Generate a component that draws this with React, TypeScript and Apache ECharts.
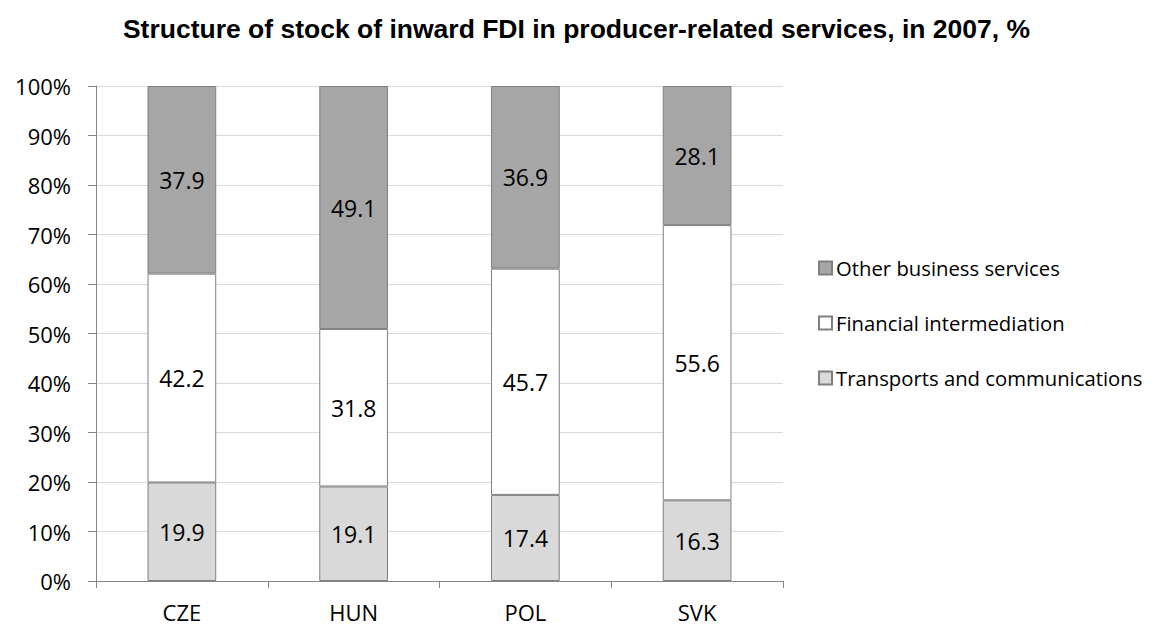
import React, { useEffect, useRef } from "react";
import * as echarts from "echarts";

const categories = ["CZE", "HUN", "POL", "SVK"];
const transports = [19.9, 19.1, 17.4, 16.3];
const financial = [42.2, 31.8, 45.7, 55.6];
const other = [37.9, 49.1, 36.9, 28.1];
const yTicks = [0, 10, 20, 30, 40, 50, 60, 70, 80, 90, 100];

const FONT = "'Open Sans', 'Noto Sans', sans-serif";

export default function App() {
  const ref = useRef<HTMLDivElement>(null);
  useEffect(() => {
    const chart = echarts.init(ref.current!, undefined, { renderer: "svg" });
    const label = {
      show: true,
      position: "inside",
      color: "#000",
      fontSize: 23,
      fontFamily: FONT,
      formatter: (p: any) => p.value.toFixed(1),
    };
    const mk = (name: string, data: number[], color: string) => ({
      name,
      type: "bar",
      stack: "s",
      data,
      barWidth: "40%",
      itemStyle: { color, borderColor: "#7f7f7f", borderWidth: 1 },
      label,
    });
    chart.setOption({
      animation: false,
      title: {
        text: "Structure of stock of inward FDI in producer-related services, in 2007, %",
        left: "center",
        top: 10,
        textStyle: { fontFamily: "'Liberation Sans', Arial, sans-serif", fontWeight: "bold", fontSize: 26.5, color: "#000" },
      },
      grid: { left: 96, right: 370, top: 86, bottom: 52, containLabel: false },
      legend: {
        orient: "vertical",
        left: 813,
        top: 252,
        itemGap: 33,
        itemWidth: 13,
        itemHeight: 13,
        icon: "rect",
        data: ["Other business services", "Financial intermediation", "Transports and communications"],
        textStyle: { fontFamily: FONT, fontSize: 20.3, lineHeight: 22, color: "#000", padding: [0, 0, 0, -1] },
      },
      xAxis: {
        type: "category",
        data: categories,
        axisLine: { lineStyle: { color: "#868686" } },
        axisTick: { show: true, length: 7, lineStyle: { color: "#868686" } },
        axisLabel: { color: "#000", fontFamily: FONT, fontSize: 22, margin: 20 },
      },
      yAxis: {
        type: "value",
        min: 0,
        max: 100,
        interval: 10,
        axisLine: { show: true, lineStyle: { color: "#868686" } },
        axisTick: { show: true, length: 8, inside: false, lineStyle: { color: "#868686" } },
        splitLine: { lineStyle: { color: "#d9d9d9" } },
        axisLabel: {
          color: "#000",
          fontFamily: FONT,
          fontSize: 22,
          margin: 25,
          formatter: (v: number) => (yTicks.includes(v) ? v + "%" : ""),
        },
      },
      series: [
        mk("Transports and communications", transports, "#d9d9d9"),
        mk("Financial intermediation", financial, "#ffffff"),
        mk("Other business services", other, "#a6a6a6"),
      ],
    });
    return () => chart.dispose();
  }, []);
  return (
    <div
      ref={ref}
      style={{ position: "absolute", left: 0, top: 0, width: 1153, height: 633, background: "#fff" }}
    />
  );
}
